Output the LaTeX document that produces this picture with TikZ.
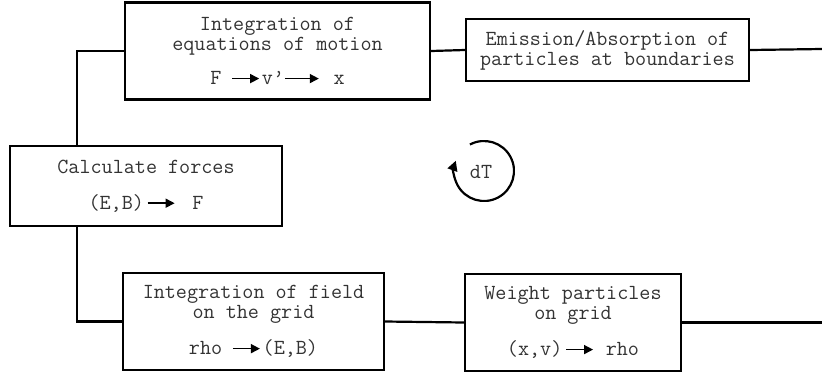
\documentclass[tikz,border=0pt]{standalone}
\usepackage{fontspec}
\usetikzlibrary{arrows.meta,positioning,calc}
\newcommand{\flowarr}[1][27]{\tikz[baseline=-6pt]\draw[black,line width=1.5pt,-{Triangle[length=9pt,width=9pt]}] (0pt,0pt) -- (#1pt,0pt);}

\begin{document}
\begin{tikzpicture}[x=1pt, y=-1pt,
  stage/.style={draw, line width=2.4pt, align=center, text=black!80,
                font=\ttfamily\fontsize{21.5}{20}\selectfont, inner sep=0pt},
  link/.style={line width=2.2pt},
  cyc/.style={line width=2.2pt, -{Triangle[length=10pt,width=10pt]}}
]
\useasboundingbox (0,0) rectangle (822,373);

% ===== particle push (top row) =====
\node[stage, minimum width=305pt, minimum height=97pt] (motion) at (277.5,51)
  {Integration of\\equations of motion\\[14pt]F\hspace{10pt}\flowarr\hspace{2pt}v’\flowarr[34]\hspace{14pt}x};
\node[stage, minimum width=283pt, minimum height=62pt] (emission) at (607.5,50)
  {Emission/Absorption of\\particles at boundaries};

% ===== forces =====
\node[stage, minimum width=272pt, minimum height=80pt] (forces) at (146,186)
  {Calculate forces\\[16pt](E,B)\hspace{3pt}\flowarr\hspace{17pt}F};

% ===== field solve (bottom row) =====
\node[stage, minimum width=261pt, minimum height=97pt] (field) at (253.5,321.5)
  {Integration of field\\on the grid\\[16pt]rho\hspace{10pt}\flowarr\hspace{2pt}(E,B)};
\node[stage, minimum width=216pt, minimum height=97pt] (weight) at (573,322.5)
  {Weight particles\\on grid\\[16pt](x,v)\hspace{3pt}\flowarr\hspace{12pt}rho};

% ===== time step =====
\node[text=black!80, font=\ttfamily\fontsize{21.5}{20}\selectfont] (tstep) at (481,172) {dT};
\draw[cyc] (484,171) ++(-118:30) arc[start angle=-118, end angle=200, radius=30];

% ===== connectors =====
\coordinate (outtop) at (822,49);
\coordinate (outbot) at (822,321);
\draw[link] (motion.west) -| ([xshift=68pt]forces.north west);
\draw[link] ([xshift=68pt]forces.south west) |- (field.west);
\draw[link] (motion.east) -- (emission.west);
\draw[link] (emission.east) -- (outtop);
\draw[link] (field.east) -- (weight.west);
\draw[link] (weight.east) -- (weight.east -| outbot);

\end{tikzpicture}
\end{document}
